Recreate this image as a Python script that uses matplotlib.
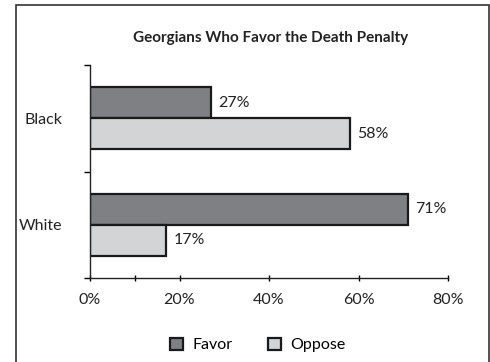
import matplotlib.pyplot as plt
from matplotlib.patches import Rectangle
import numpy as np

plt.rcParams['font.family'] = ['Lato', 'DejaVu Sans']

# Survey results
groups = ["Black", "White"]
favor = [27, 71]
oppose = [58, 17]
xticks = [0, 10, 20, 40, 60, 80]
xticklabels = ["0%", "", "20%", "40%", "60%", "80%"]

favor_color = "#7f8083"
oppose_color = "#d3d4d6"

fig = plt.figure(figsize=(4.9, 3.62), dpi=100)
ax = fig.add_axes([0.1837, 0.232, 0.7306, 0.5884])

# frame around the whole figure
fig.patches.append(Rectangle((15.5 / 490, -0.1), 473 / 490, 1.1 - 5.5 / 362,
                             transform=fig.transFigure, fill=False,
                             edgecolor="#333333", linewidth=1.2))

y = np.array([1, 0])
h = 0.29
ax.barh(y + h / 2, favor, height=h, color=favor_color, edgecolor="#1a1a1a",
        linewidth=1.6, label="Favor")
ax.barh(y - h / 2, oppose, height=h, color=oppose_color, edgecolor="#1a1a1a",
        linewidth=1.6, label="Oppose")

for yi, f, o in zip(y, favor, oppose):
    ax.text(f + 1.6, yi + h / 2, f"{f}%", va="center", ha="left", fontsize=11.5, color="#222222")
    ax.text(o + 1.6, yi - h / 2, f"{o}%", va="center", ha="left", fontsize=11.5, color="#222222")

ax.set_xlim(0, 80)
ax.set_ylim(-0.5, 1.5)
ax.set_xticks(xticks)
ax.set_xticklabels(xticklabels, fontsize=11.5, color="#222222")
ax.set_yticks([-0.5, 0.5, 1.5], minor=False)
ax.set_yticklabels([])
ax.set_yticks(y, minor=True)
ax.set_yticklabels(groups, minor=True, fontsize=11.5, color="#222222")
ax.tick_params(axis="y", which="minor", length=0, pad=20)
ax.tick_params(axis="y", which="major", length=4, width=1, direction="out")
ax.tick_params(axis="x", length=4, width=1, direction="inout", pad=9)

for side in ["top", "right"]:
    ax.spines[side].set_visible(False)
for side in ["left", "bottom"]:
    ax.spines[side].set_linewidth(1)
    ax.spines[side].set_color("#222222")

fig.text(271 / 490, 1 - 38 / 362, "Georgians Who Favor the Death Penalty",
         ha="center", va="center", fontsize=11, fontweight="bold", color="#222222")

fig.legend(loc="center", bbox_to_anchor=(258 / 490, 1 - 345 / 362), ncol=2,
           frameon=False, fontsize=11.5, handlelength=0.8, handleheight=0.8,
           columnspacing=2.2, handletextpad=0.6)

fig.savefig("out.png", dpi=100)
